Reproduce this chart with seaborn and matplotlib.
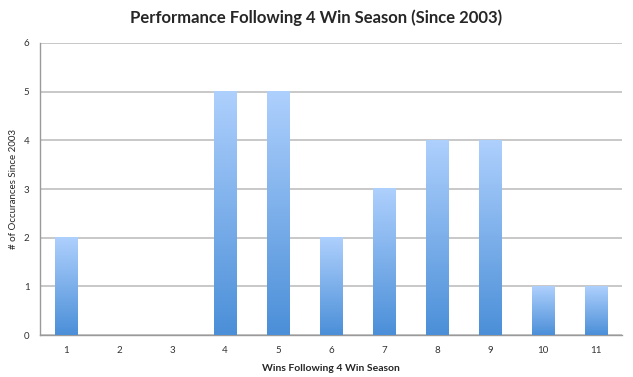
import numpy as np
import pandas as pd
import matplotlib
matplotlib.use("Agg")
import matplotlib.pyplot as plt
import seaborn as sns
from matplotlib.colors import LinearSegmentedColormap

wins = ["1", "2", "3", "4", "5", "6", "7", "8", "9", "10", "11"]
occurrences = [2, 0, 0, 5, 5, 2, 3, 4, 4, 1, 1]
y_ticks = [0, 1, 2, 3, 4, 5, 6]

df = pd.DataFrame({"wins": wins, "count": occurrences})

sns.set_style("white")
plt.rcParams["font.family"] = ["Lato", "DejaVu Sans"]

fig = plt.figure(figsize=(6.33, 3.77), dpi=100)
ax = fig.add_axes([0.063, 0.111, 0.920, 0.775])

sns.barplot(data=df, x="wins", y="count", color="#5a9be0", width=0.42, ax=ax)

# vertical gradient fill, light at top, darker at bottom
grad_cmap = LinearSegmentedColormap.from_list("bar", ["#4b8fd8", "#aed0fd"])
grad = np.linspace(0, 1, 256).reshape(-1, 1)
for p in ax.patches:
    h = p.get_height()
    if h <= 0:
        p.set_visible(False)
        continue
    x0 = p.get_x()
    w = p.get_width()
    p.set_facecolor("none")
    p.set_edgecolor("none")
    ax.imshow(grad, cmap=grad_cmap, origin="lower", aspect="auto",
              extent=[x0, x0 + w, 0, h], zorder=3)

ax.set_xlim(-0.5, len(wins) - 0.5)
ax.set_ylim(0, 6)
ax.set_yticks(y_ticks)
ax.set_yticklabels([str(t) for t in y_ticks])
ax.yaxis.grid(True, color="#c8c8c8", linewidth=1.4)
ax.set_axisbelow(True)

ax.set_xticks(np.arange(-0.5, len(wins)), minor=True)
ax.tick_params(axis="x", which="major", length=0, labelsize=7, pad=8, colors="#333333")
ax.tick_params(axis="x", which="minor", length=3, color="#9a9a9a", width=1)
ax.tick_params(axis="y", length=4, color="#9a9a9a", labelsize=7, colors="#333333")

for side in ["top", "right"]:
    ax.spines[side].set_visible(False)
for side in ["left", "bottom"]:
    ax.spines[side].set_color("#9a9a9a")
    ax.spines[side].set_linewidth(1)

ax.set_xlabel("Wins Following 4 Win Season", fontsize=7.5, fontweight="bold", labelpad=6)
ax.set_ylabel("# of Occurances Since 2003", fontsize=7, labelpad=4)
fig.suptitle("Performance Following 4 Win Season (Since 2003)", fontsize=12,
             fontweight="bold", y=0.975)

fig.savefig("out.png", dpi=100)
